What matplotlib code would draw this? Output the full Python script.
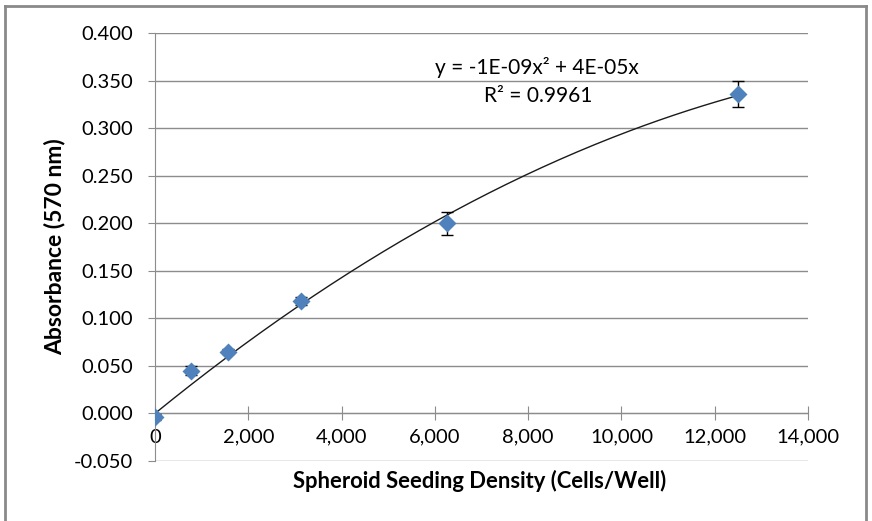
import numpy as np
import matplotlib.pyplot as plt
from matplotlib.lines import Line2D
from matplotlib.ticker import FuncFormatter, MultipleLocator

plt.rcParams['font.family'] = ['Lato', 'DejaVu Sans']

# seeding density vs absorbance
cells = [0, 781, 1563, 3125, 6250, 12500]
absorb = [-0.004, 0.045, 0.065, 0.118, 0.200, 0.336]
err = [0.003, 0.005, 0.003, 0.004, 0.012, 0.014]

eq_text = "y = -1E-09x² + 4E-05x"
r2_text = "R² = 0.9961"
title = "Spheroid seeding density and absorbance (570 nm)"

fig = plt.figure(figsize=(8.72, 5.21), dpi=100)
ax = fig.add_axes([155/872, 1 - 461/521, 653/872, 428/521])

grid_c = '#8c8c8c'

# trendline: quadratic through the origin, least squares on the points
x = np.array(cells, float)
y = np.array(absorb)
A = np.c_[x**2, x]
coef = np.linalg.lstsq(A, y, rcond=None)[0]
xs = np.linspace(0, 12500, 200)
ax.plot(xs, coef[0]*xs**2 + coef[1]*xs, color='#1a1a1a', lw=1.0, zorder=3)

ax.errorbar(cells, absorb, yerr=err, fmt='none', ecolor='black',
            elinewidth=1, capsize=4.5, capthick=1, zorder=4)
ax.plot(cells, absorb, 'D', color='#4f81bd', markersize=8.7, mec='none', zorder=5)

ax.set_xlim(0, 14000)
ax.set_ylim(-0.05, 0.4)
ax.yaxis.set_major_locator(MultipleLocator(0.05))
ax.xaxis.set_major_locator(MultipleLocator(2000))
ax.yaxis.set_major_formatter(FuncFormatter(lambda v, p: f"{v:.3f}"))
ax.xaxis.set_major_formatter(FuncFormatter(lambda v, p: f"{v:,.0f}"))

ax.grid(axis='y', color=grid_c, lw=1)
ax.set_axisbelow(True)
for s in ['top', 'right']:
    ax.spines[s].set_visible(False)
ax.spines['bottom'].set_position(('data', 0))
ax.spines['bottom'].set_color(grid_c)
ax.spines['left'].set_color(grid_c)
ax.tick_params(axis='both', colors=grid_c, labelcolor='black', labelsize=14.5)
ax.tick_params(axis='x', direction='inout', length=10, pad=6)
ax.tick_params(axis='y', direction='out', length=5, pad=11)

ax.set_ylabel("Absorbance (570 nm)", fontsize=16.5, fontweight='bold', labelpad=6)
fig.text(480/872, 1 - 481/521, "Spheroid Seeding Density (Cells/Well)",
         fontsize=15.8, fontweight='bold', ha='center', va='center')

ax.text(8190, 0.364, eq_text, fontsize=15, ha='center', va='center')
ax.text(8210, 0.334, r2_text, fontsize=15, ha='center', va='center')

# chart area border (bottom edge is outside the image)
bc = '#8a8a8a'
for xx, yy in [([5, 5], [6, 530]), ([5, 866], [6, 6]), ([866, 866], [6, 530])]:
    fig.add_artist(Line2D(np.array(xx)/872, 1 - np.array(yy)/521,
                          transform=fig.transFigure, color=bc, lw=2))

# title is cut off at the top of the image, only the lowest pixels show
fig.text(495/872, 1 + 3.5/521, title, fontsize=15, ha='right', va='baseline')

fig.savefig("out.png", dpi=100)
